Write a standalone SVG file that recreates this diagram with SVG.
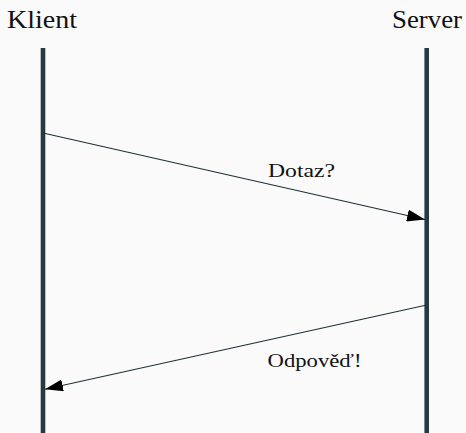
<svg xmlns="http://www.w3.org/2000/svg" width="466" height="433" viewBox="0 0 466 433">
  <style>
    .label { font-family: "Liberation Serif", "DejaVu Serif", serif; fill: #111; }
    .actor { font-size: 26px; }
    .msg { font-size: 19px; }
    .lifeline { stroke: #263b40; stroke-width: 4.6; }
    .message { stroke: #1f3136; stroke-width: 1.1; fill: none; marker-end: url(#head); }
  </style>
  <defs>
    <marker id="head" viewBox="0 0 18 12" refX="18" refY="6" markerWidth="18" markerHeight="12" markerUnits="userSpaceOnUse" orient="auto">
      <path d="M0,0 L18,6 L0,12 Z" fill="#000"/>
    </marker>
  </defs>
  <rect width="466" height="433" fill="#fafafa"/>

  <g id="klient">
    <text class="label actor" x="7" y="27.5" textLength="70" lengthAdjust="spacingAndGlyphs">Klient</text>
    <line class="lifeline" x1="43" y1="48" x2="43" y2="433"/>
  </g>

  <g id="server">
    <text class="label actor" x="392" y="27.5" textLength="70" lengthAdjust="spacingAndGlyphs">Server</text>
    <line class="lifeline" x1="426.7" y1="48" x2="426.7" y2="433"/>
  </g>

  <g id="connectors">
    <line class="message" x1="43" y1="133" x2="425" y2="219.5"/>
    <text class="label msg" x="268" y="176.7" textLength="67" lengthAdjust="spacingAndGlyphs">Dotaz?</text>
    <line class="message" x1="426.7" y1="305" x2="45" y2="389.3"/>
    <text class="label msg" x="267.5" y="367.3" textLength="94" lengthAdjust="spacingAndGlyphs">Odpověď!</text>
  </g>
</svg>
